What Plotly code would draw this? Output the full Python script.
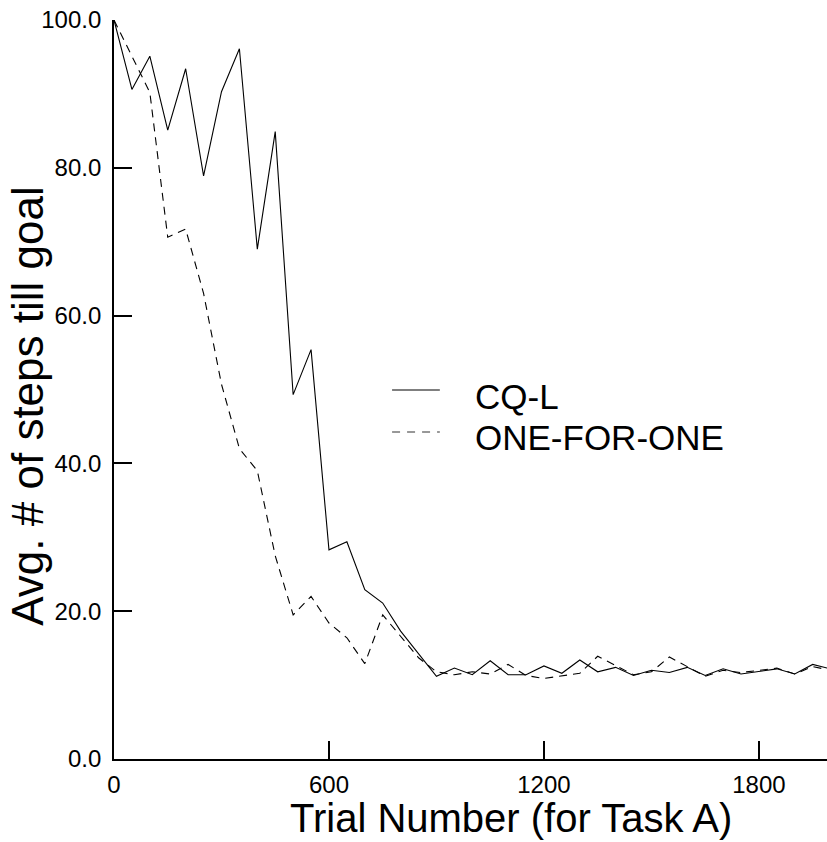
import plotly.graph_objects as go

trials = [0, 50, 100, 150, 200, 250, 300, 350, 400, 450, 500, 550, 600, 650, 700, 750, 800, 850, 900, 950,
          1000, 1050, 1100, 1150, 1200, 1250, 1300, 1350, 1400, 1450, 1500, 1550, 1600, 1650, 1700, 1750,
          1800, 1850, 1900, 1950, 2000]

cql = [100.0, 90.6, 95.1, 85.1, 93.4, 78.9, 90.3, 96.1, 69.0, 84.9, 49.3, 55.4, 28.3, 29.4, 22.9, 21.1,
       17.3, 14.3, 11.2, 12.3, 11.4, 13.3, 11.4, 11.4, 12.6, 11.6, 13.4, 11.8, 12.4, 11.3, 12.0, 11.7,
       12.4, 11.3, 12.2, 11.5, 11.8, 12.2, 11.5, 12.8, 12.2]

one_for_one = [100.0, 95.0, 90.2, 70.6, 71.7, 63.0, 50.7, 42.0, 39.0, 27.5, 19.5, 22.0, 18.4, 16.4, 12.9,
               19.5, 16.6, 13.7, 11.8, 11.4, 11.8, 11.5, 12.8, 11.3, 10.9, 11.2, 11.6, 13.9, 12.6, 11.4,
               11.8, 13.8, 12.5, 11.2, 12.0, 11.7, 12.0, 12.3, 11.5, 12.5, 12.0]

x_ticks = [0, 600, 1200, 1800]
y_ticks = [0, 20, 40, 60, 80, 100]

FONT = "Liberation Sans, Arial, Helvetica, sans-serif"

fig = go.Figure()
fig.add_trace(go.Scatter(x=trials, y=cql, mode="lines", name="CQ-L",
                         line=dict(color="black", width=1.1), showlegend=False, cliponaxis=False))
fig.add_trace(go.Scatter(x=trials, y=one_for_one, mode="lines", name="ONE-FOR-ONE",
                         line=dict(color="black", width=1.1, dash="8px,6px"), showlegend=False,
                         cliponaxis=False))

# legend drawn manually
fig.add_shape(type="line", xref="paper", yref="paper", x0=0.39, x1=0.457, y0=0.4993, y1=0.4993,
              line=dict(color="black", width=1.2))
fig.add_shape(type="line", xref="paper", yref="paper", x0=0.39, x1=0.457, y0=0.4425, y1=0.4425,
              line=dict(color="#777777", width=1.5, dash="8px,7px"))
fig.add_annotation(xref="paper", yref="paper", x=0.5035, y=0.4912, text="CQ-L", showarrow=False,
                   xanchor="left", yanchor="middle", font=dict(family=FONT, size=35, color="black"))
fig.add_annotation(xref="paper", yref="paper", x=0.5035, y=0.4357, text="ONE-FOR-ONE", showarrow=False,
                   xanchor="left", yanchor="middle", font=dict(family=FONT, size=35, color="black"))

# axis titles
fig.add_annotation(xref="paper", yref="paper", x=0.557, y=-0.0798, text="Trial Number (for Task A)",
                   showarrow=False, xanchor="center", yanchor="middle",
                   font=dict(family=FONT, size=40, color="black"))
fig.add_annotation(xref="paper", yref="paper", x=-0.121, y=0.4777, text="Avg. # of steps till goal",
                   showarrow=False, xanchor="center", yanchor="middle", textangle=-90,
                   font=dict(family=FONT, size=44, color="black"))

fig.update_layout(
    width=827, height=842,
    margin=dict(l=114, r=0, t=20, b=83),
    paper_bgcolor="white", plot_bgcolor="white",
    font=dict(family=FONT, color="black"),
    xaxis=dict(range=[0, 1990], tickvals=x_ticks, ticks="inside", ticklen=18, tickwidth=1.8,
               tickcolor="black", showline=True, linecolor="black", linewidth=1.8, showgrid=False,
               zeroline=False, tickfont=dict(size=24, family=FONT, color="black"),
               ticklabelstandoff=3),
    yaxis=dict(range=[0, 100], tickvals=y_ticks, tickformat=".1f", ticks="inside", ticklen=18,
               tickwidth=1.8, tickcolor="black", showline=True, linecolor="black", linewidth=1.8,
               showgrid=False, zeroline=False, tickfont=dict(size=24, family=FONT, color="black"),
               ticklabelstandoff=6),
)

fig.write_html("out.html")
